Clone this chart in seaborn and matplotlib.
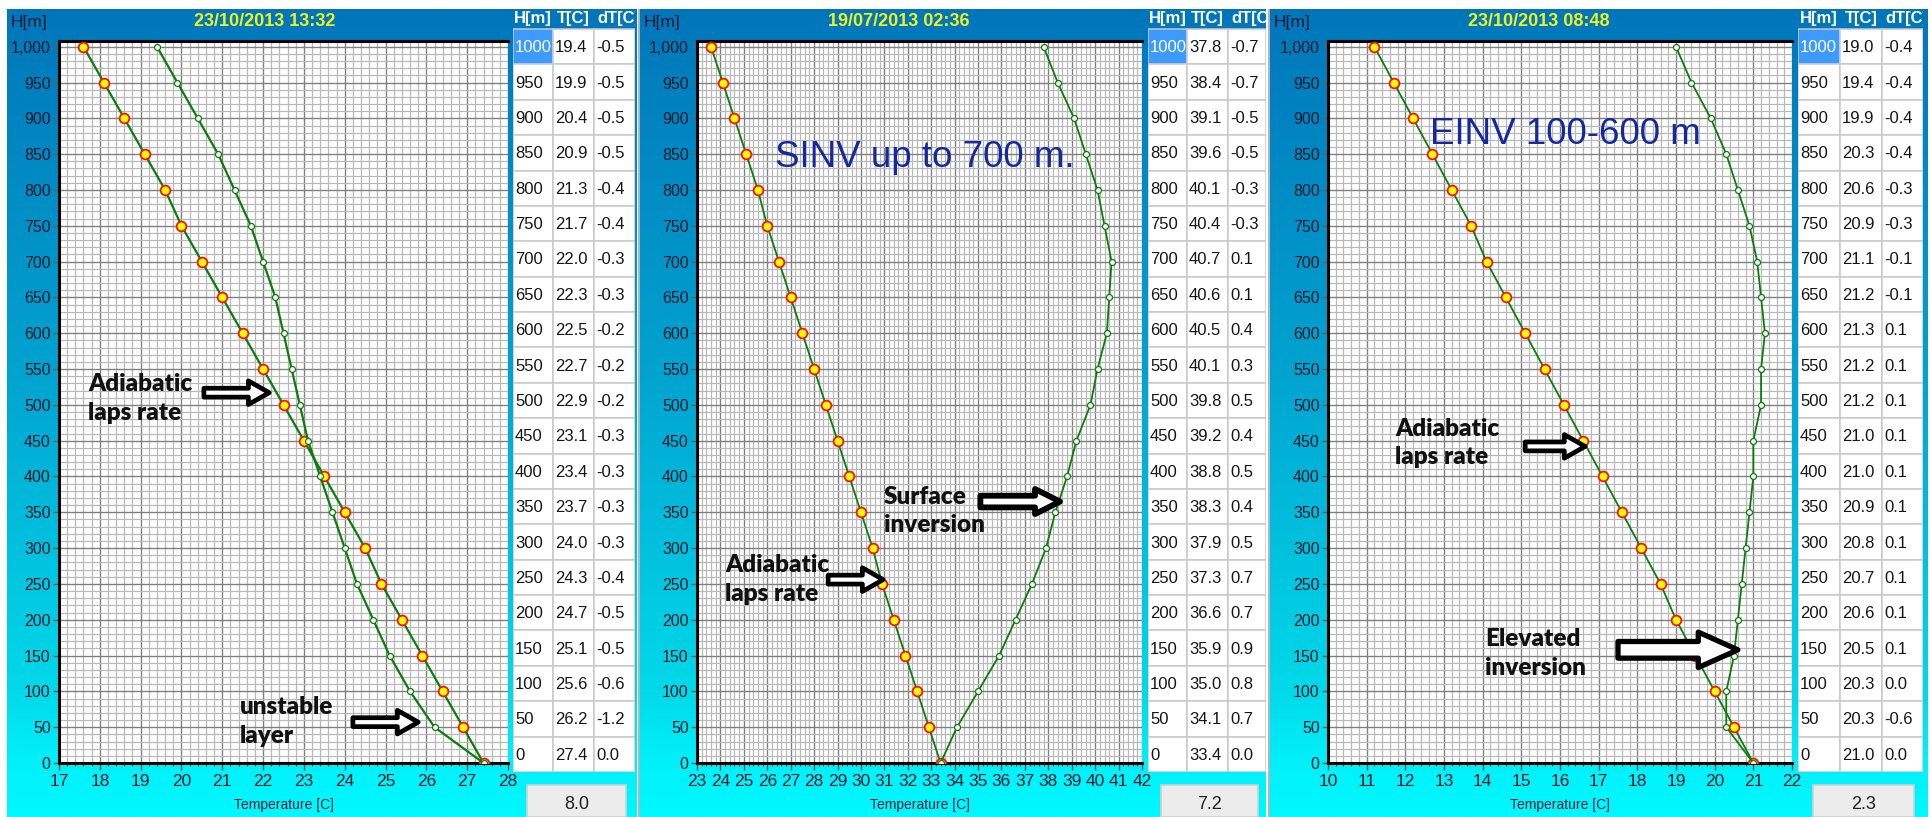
import numpy as np
import pandas as pd
import matplotlib
matplotlib.use("Agg")
import matplotlib.pyplot as plt
import seaborn as sns
from matplotlib.patches import Rectangle, FancyArrowPatch
from matplotlib.ticker import MultipleLocator, FuncFormatter

# ---------------- data ----------------
heights = [1000, 950, 900, 850, 800, 750, 700, 650, 600, 550, 500,
           450, 400, 350, 300, 250, 200, 150, 100, 50, 0]

titles = ["23/10/2013 13:32", "19/07/2013 02:36", "23/10/2013 08:48"]
footer_values = ["8.0", "7.2", "2.3"]

p1_temp = [19.4, 19.9, 20.4, 20.9, 21.3, 21.7, 22.0, 22.3, 22.5, 22.7, 22.9,
           23.1, 23.4, 23.7, 24.0, 24.3, 24.7, 25.1, 25.6, 26.2, 27.4]
p1_dt = [-0.5, -0.5, -0.5, -0.5, -0.4, -0.4, -0.3, -0.3, -0.2, -0.2, -0.2,
         -0.3, -0.3, -0.3, -0.3, -0.4, -0.5, -0.5, -0.6, -1.2, 0.0]
p1_adiabatic = [17.6, 18.1, 18.6, 19.1, 19.6, 20.0, 20.5, 21.0, 21.5, 22.0, 22.5,
                23.0, 23.5, 24.0, 24.5, 24.9, 25.4, 25.9, 26.4, 26.9, 27.4]

p2_temp = [37.8, 38.4, 39.1, 39.6, 40.1, 40.4, 40.7, 40.6, 40.5, 40.1, 39.8,
           39.2, 38.8, 38.3, 37.9, 37.3, 36.6, 35.9, 35.0, 34.1, 33.4]
p2_dt = [-0.7, -0.7, -0.5, -0.5, -0.3, -0.3, 0.1, 0.1, 0.4, 0.3, 0.5,
         0.4, 0.5, 0.4, 0.5, 0.7, 0.7, 0.9, 0.8, 0.7, 0.0]
p2_adiabatic = [23.6, 24.1, 24.6, 25.1, 25.6, 26.0, 26.5, 27.0, 27.5, 28.0, 28.5,
                29.0, 29.5, 30.0, 30.5, 30.9, 31.4, 31.9, 32.4, 32.9, 33.4]

p3_temp = [19.0, 19.4, 19.9, 20.3, 20.6, 20.9, 21.1, 21.2, 21.3, 21.2, 21.2,
           21.0, 21.0, 20.9, 20.8, 20.7, 20.6, 20.5, 20.3, 20.3, 21.0]
p3_dt = [-0.4, -0.4, -0.4, -0.4, -0.3, -0.3, -0.1, -0.1, 0.1, 0.1, 0.1,
         0.1, 0.1, 0.1, 0.1, 0.1, 0.1, 0.1, 0.0, -0.6, 0.0]
p3_adiabatic = [11.2, 11.7, 12.2, 12.7, 13.2, 13.7, 14.1, 14.6, 15.1, 15.6, 16.1,
                16.6, 17.1, 17.6, 18.1, 18.6, 19.0, 19.5, 20.0, 20.5, 21.0]

table_headers = ["H[m]", "T[C]", "dT[C]"]

# ---------------- layout ----------------
W, H = 1932, 817
fig = plt.figure(figsize=(W / 100, H / 100), dpi=100)
fig.patch.set_facecolor("white")


def px_axes(l, t, r, b, **kw):
    return fig.add_axes([l / W, 1 - b / H, (r - l) / W, (b - t) / H], **kw)


SANS = ["Liberation Sans", "DejaVu Sans"]
CALLOUT = ["Lato", "DejaVu Sans"]

# gradient for frames
stops_y = [0.0, 0.45, 0.85, 0.93, 1.0]
stops_c = [(0, 118, 186), (0, 163, 208), (0, 218, 234), (0, 240, 250), (0, 248, 254)]
yy = np.linspace(0, 1, 400)
grad = np.stack([np.interp(yy, stops_y, [c[i] for c in stops_c]) for i in range(3)], axis=-1) / 255.0
grad = grad[:, None, :]

panels = [
    dict(temp=p1_temp, adi=p1_adiabatic, dt=p1_dt, xlim=(17, 28), frame=(7, 637),
         plot=(59, 508), cols=(513, 553, 594, 635), foot=(527, 626), lw=1.6),
    dict(temp=p2_temp, adi=p2_adiabatic, dt=p2_dt, xlim=(23, 42), frame=(640, 1266),
         plot=(697, 1142), cols=(1148, 1187, 1228, 1266), foot=(1161, 1258), lw=1.3),
    dict(temp=p3_temp, adi=p3_adiabatic, dt=p3_dt, xlim=(10, 22), frame=(1270, 1928),
         plot=(1328, 1792), cols=(1798, 1840, 1882, 1923), foot=(1813, 1914), lw=1.3),
]

PLOT_TOP, PLOT_BOT = 41, 763
ROW_TOP, ROW_BOT = 29, 772
GREEN = "#0b7d0b"

axes = []
for i, p in enumerate(panels):
    fl, fr = p["frame"]
    pl, pr = p["plot"]
    c0, c1, c2, c3 = p["cols"]
    # frame
    fax = px_axes(fl, 9, fr, 817)
    fax.imshow(grad, aspect="auto", extent=(0, 1, 0, 1), interpolation="bilinear")
    fax.set_axis_off()

    # title & labels
    fig.text(((fl + c0) / 2 + 5) / W, 1 - 21 / H, titles[i],
             ha="center", va="center", color="#f0f020", fontsize=13,
             fontweight="bold", family=SANS)
    fig.text((fl + 4) / W, 1 - 22 / H, "H[m]", ha="left", va="center",
             color="#0d1a33", fontsize=12.5, family=SANS)
    fig.text(((pl + pr) / 2) / W, 1 - 805 / H, "Temperature [C]",
             ha="center", va="center", color="#10203a", fontsize=10, family=SANS)

    # plot area
    ax = px_axes(pl, PLOT_TOP, pr, PLOT_BOT)
    ax.set_facecolor("white")
    df_obs = pd.DataFrame({"T": p["temp"], "H": heights})
    df_adi = pd.DataFrame({"T": p["adi"], "H": heights})
    sns.lineplot(data=df_adi, x="T", y="H", orient="y", sort=False, estimator=None,
                 color=GREEN, lw=p["lw"], marker="o", markersize=7,
                 markerfacecolor="#ffff00", markeredgecolor="#ff1010",
                 markeredgewidth=1.3, ax=ax, zorder=4)
    sns.lineplot(data=df_obs, x="T", y="H", orient="y", sort=False, estimator=None,
                 color=GREEN, lw=p["lw"], marker="o", markersize=4.3,
                 markerfacecolor="white", markeredgecolor=GREEN,
                 markeredgewidth=0.9, ax=ax, zorder=5)
    ax.set_xlim(*p["xlim"])
    ax.set_ylim(0, 1008)
    ax.set_xlabel("")
    ax.set_ylabel("")
    ax.xaxis.set_major_locator(MultipleLocator(1))
    ax.xaxis.set_minor_locator(MultipleLocator(0.2))
    ax.yaxis.set_major_locator(MultipleLocator(50))
    ax.yaxis.set_minor_locator(MultipleLocator(10))
    ax.yaxis.set_major_formatter(FuncFormatter(lambda v, pos: f"{int(round(v)):,}"))
    ax.grid(which="minor", color="#b9b9b9", lw=0.9, zorder=0)
    ax.grid(which="major", color="#808080", lw=1.0, zorder=1)
    ax.set_axisbelow(True)
    for s in ("left", "bottom", "top"):
        ax.spines[s].set_color("black")
        ax.spines[s].set_linewidth(2.2)
    ax.spines["right"].set_visible(False)
    ax.tick_params(axis="y", which="major", length=4, width=1, color="#606060",
                   labelsize=11.5, labelcolor="#0b1a2c", pad=2)
    ax.tick_params(axis="y", which="minor", length=0)
    ax.tick_params(axis="x", which="major", length=5, width=1, color="#7a4a3a",
                   labelsize=12.5, labelcolor="#0b1a2c", pad=3)
    ax.tick_params(axis="x", which="minor", length=2.5, width=0.8, color="#7a4a3a")
    for lab in ax.get_xticklabels() + ax.get_yticklabels():
        lab.set_family(SANS)
    axes.append(ax)

    # table
    tax = px_axes(c0, 9, c3, ROW_BOT)
    tax.set_xlim(c0, c3)
    tax.set_ylim(ROW_BOT, 9)
    tax.set_axis_off()
    colx = [c0, c1, c2, c3]
    for j, hd in enumerate(table_headers):
        t = tax.text((colx[j] + colx[j + 1]) / 2 if j < 2 else colx[j] + 3, 18, hd,
                     ha="center" if j < 2 else "left", va="center", color="white",
                     fontsize=12, fontweight="bold", family=SANS)
        t.set_clip_on(True)
    rh = (ROW_BOT - ROW_TOP) / len(heights)
    for r, (hv, tv, dv) in enumerate(zip(heights, p["temp"], p["dt"])):
        y0 = ROW_TOP + r * rh
        vals = [f"{hv}", f"{tv:.1f}", f"{dv:.1f}"]
        for j in range(3):
            fc = "#3d9bff" if (r == 0 and j == 0) else "white"
            tax.add_patch(Rectangle((colx[j], y0), colx[j + 1] - colx[j], rh,
                                    facecolor=fc, edgecolor="#c9c9c9", lw=1.1))
            tax.text(colx[j] + 2, y0 + rh / 2 + 1, vals[j], ha="left", va="center",
                     color="white" if (r == 0 and j == 0) else "#151515",
                     fontsize=12, family=SANS)

    # footer box
    f0, f1 = p["foot"]
    bax = px_axes(f0, 790, f1, 817)
    bax.set_xlim(0, 1)
    bax.set_ylim(0, 1)
    bax.set_axis_off()
    bax.add_patch(Rectangle((0, 0), 1, 1.2, facecolor="#ececec", edgecolor="#d0d0d0",
                            lw=1.2, clip_on=False))
    bax.text(0.5, 0.45, footer_values[i], ha="center", va="center", color="#222222",
             fontsize=13, family=SANS)

# separators between panels
for xs in (637.5, 1267.5):
    fig.add_artist(Rectangle((xs / W, 0), 2.5 / W, 1 - 9 / H, transform=fig.transFigure,
                             facecolor="#a9b6c4", edgecolor="none"))


# ---------------- annotations ----------------
def callout(ax, x, y, text):
    ax.text(x, y, text, ha="left", va="center", fontsize=17.5, fontweight="heavy",
            family=CALLOUT, color="#111111", linespacing=1.35, zorder=7)


def arrow(ax, start, end, scale=20, head_w=0.85, head_l=0.75, tail_w=0.32, lw=3.4):
    a = FancyArrowPatch(start, end,
                        arrowstyle=f"simple,head_length={head_l},head_width={head_w},tail_width={tail_w}",
                        mutation_scale=scale, facecolor="white", edgecolor="black",
                        lw=lw, shrinkA=0, shrinkB=0, zorder=8)
    ax.add_patch(a)


a1, a2, a3 = axes
callout(a1, 17.72, 509, "Adiabatic\nlaps rate")
arrow(a1, (20.55, 517), (22.15, 517))
callout(a1, 21.43, 58, "unstable\nlayer")
arrow(a1, (24.2, 57), (25.8, 57))

a2.text(32.72, 845, "SINV up to 700 m.", ha="center", va="center", fontsize=26.5,
        family=SANS, color="#1428a0", zorder=7)
callout(a2, 30.97, 352, "Surface\ninversion")
arrow(a2, (35.1, 365), (38.5, 365), scale=20, head_w=0.9, head_l=0.9, tail_w=0.42, lw=4.2)
callout(a2, 24.19, 256, "Adiabatic\nlaps rate")
arrow(a2, (28.6, 256), (30.95, 256))

a3.text(16.15, 877, "EINV 100-600 m", ha="center", va="center", fontsize=26.5,
        family=SANS, color="#1428a0", zorder=7)
callout(a3, 11.73, 447, "Adiabatic\nlaps rate")
arrow(a3, (15.1, 442), (16.65, 442))
callout(a3, 14.06, 153, "Elevated\ninversion")
arrow(a3, (17.5, 158), (20.6, 158), scale=30, head_w=0.85, head_l=0.95, tail_w=0.4, lw=3.8)

fig.savefig("out.png", dpi=100)
